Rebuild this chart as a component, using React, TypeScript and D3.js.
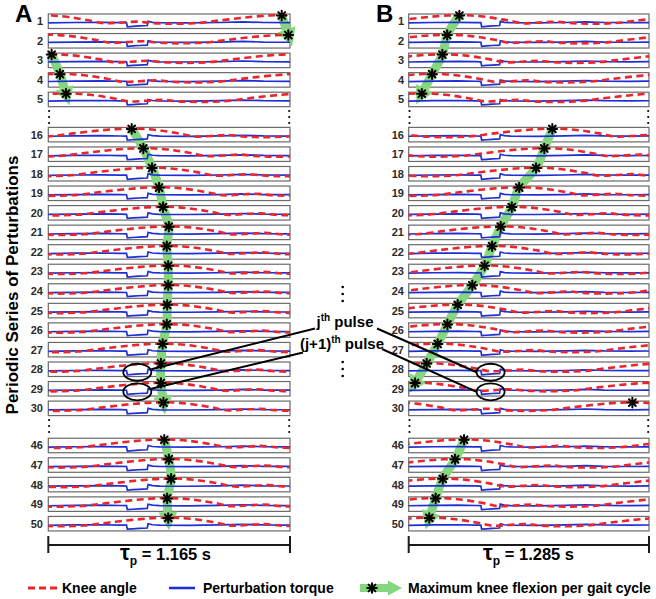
import React from 'react';
import * as d3 from 'd3';

// ---------------- data ----------------
const rowNumbers = [1, 2, 3, 4, 5, 16, 17, 18, 19, 20, 21, 22, 23, 24, 25, 26, 27, 28, 29, 30, 46, 47, 48, 49, 50];
// time (s) of maximum knee flexion within each perturbation period
const peakTimesA = [1.125, 1.157, 0.016, 0.056, 0.085, 0.402, 0.458, 0.5, 0.534, 0.553, 0.581, 0.571, 0.578, 0.578, 0.573, 0.571, 0.551, 0.543, 0.543, 0.555, 0.559, 0.581, 0.592, 0.573, 0.578];
const peakTimesB = [0.271, 0.206, 0.18, 0.125, 0.07, 0.768, 0.725, 0.681, 0.591, 0.551, 0.492, 0.446, 0.406, 0.34, 0.262, 0.207, 0.155, 0.096, 0.034, 1.196, 0.296, 0.248, 0.182, 0.144, 0.11];
// knee angle shape: [phase from peak (cycle fraction), normalized angle]
const kneeTemplate: [number, number][] = [
  [-0.5, 0.1], [-0.45, 0.07], [-0.35, 0.15], [-0.25, 0.45], [-0.15, 0.75], [-0.05, 0.96], [0, 1],
  [0.05, 0.96], [0.1, 0.85], [0.2, 0.45], [0.27, 0.12], [0.33, 0.2], [0.4, 0.3], [0.46, 0.15],
];
// perturbation torque shape: [time from pulse onset (s), normalized torque]
const torqueTemplate: [number, number][] = [
  [-0.4, -0.05], [-0.25, 0.05], [-0.12, 0.1], [-0.03, 0.02], [0, 0], [0.004, -1], [0.03, -0.9],
  [0.06, -0.8], [0.1, -0.7], [0.104, 0.35], [0.125, 0.1], [0.16, 0], [0.3, -0.05], [0.45, 0.05],
  [0.56, 0.2], [0.66, 0.05], [0.8, 0], [0.95, 0.05],
];
const periods = [1.165, 1.285];
const pulseOnsets = [0.377, 0.386];
const arrowRowsA = [[1, 2], [3, 5], [16, 30], [46, 50]];
const arrowRowsB = [[1, 5], [16, 29], [46, 50]];
const highlightedRows = [28, 29];
const panelLabels = ['A', 'B'];
const periodLabels = ['1.165 s', '1.285 s'];
const yTitle = 'Periodic Series of Perturbations';
const legendLabels = ['Knee angle', 'Perturbation torque', 'Maximum knee flexion per gait cycle'];

// ---------------- layout ----------------
const W = 656, H = 599;
const FONT = '"Liberation Sans", Arial, Helvetica, sans-serif';
const BOX_H = 14.5;
const RED = '#e8262b', BLUE = '#1f2fd6', GREEN = '#86d67f';
const slotOf = (r: number) => (r <= 5 ? r - 1 : r <= 30 ? 5.8 + (r - 16) : 21.7 + (r - 46));
const yTop = d3.scaleLinear().domain([0, 25.7]).range([14, 14 + 25.7 * 19.55]);
const rowTop = (r: number) => yTop(slotOf(r));

const panels = [
  { x0: 48.3, x1: 290, peaks: peakTimesA, arrows: arrowRowsA, labelX: 15, numX: 43, tauX: 120 },
  { x0: 408.7, x1: 649, peaks: peakTimesB, arrows: arrowRowsB, labelX: 376, numX: 404, tauX: 483 },
];

function Asterisk({ x, y }: { x: number; y: number }) {
  return (
    <g transform={`translate(${x},${y})`} stroke="#000" strokeWidth={2} strokeLinecap="round">
      {[0, 45, 90, 135].map((a) => (
        <line key={a} x1={-4.8} x2={4.8} y1={0} y2={0} transform={`rotate(${a})`} />
      ))}
    </g>
  );
}

function Panel({ pi }: { pi: number }) {
  const p = panels[pi];
  const period = periods[pi];
  const onset = pulseOnsets[pi];
  const x = d3.scaleLinear().domain([0, period]).range([p.x0, p.x1]);
  const clipId = `clip${pi}`;

  const starPos = (r: number) => {
    const i = rowNumbers.indexOf(r);
    return [x(p.peaks[i]), rowTop(r) + 1.5] as [number, number];
  };

  const rows = rowNumbers.map((r, i) => {
    const top = rowTop(r);
    const yK = d3.scaleLinear().domain([0, 1]).range([top + BOX_H * 0.72, top + BOX_H * 0.08]);
    const yT = d3.scaleLinear().domain([-1, 1]).range([top + BOX_H * 0.88, top + BOX_H * 0.32]);
    const peak = p.peaks[i];
    const kpts: [number, number][] = [];
    for (const k of [-1, 0, 1]) {
      for (const [d, v] of kneeTemplate) {
        const t = peak + (d + k) * period;
        if (t >= -0.15 * period && t <= 1.15 * period) kpts.push([t, v]);
      }
    }
    kpts.sort((a, b) => a[0] - b[0]);
    const kneePath = d3.line<[number, number]>().x((d) => x(d[0])).y((d) => yK(d[1])).curve(d3.curveMonotoneX)(kpts) || '';
    const tpts = torqueTemplate.map(([t, v]) => [onset + t, v] as [number, number]).filter((d) => d[0] >= -0.06 && d[0] <= period + 0.1);
    const torquePath = d3.line<[number, number]>().x((d) => x(d[0])).y((d) => yT(d[1]))(tpts) || '';
    return { r, top, kneePath, torquePath };
  });

  const arrows = p.arrows.map(([a, b]) => {
    const pts = rowNumbers.filter((r) => r >= a && r <= b).map(starPos);
    const n = pts.length;
    const [ax, ay] = pts[n - 2];
    const [bx, by] = pts[n - 1];
    const len = Math.hypot(bx - ax, by - ay);
    const dx = (bx - ax) / len, dy = (by - ay) / len;
    const [sx, sy] = pts[0];
    const [s2x, s2y] = pts[1];
    const l0 = Math.hypot(s2x - sx, s2y - sy);
    const start: [number, number] = [sx - ((s2x - sx) / l0) * 2, sy - ((s2y - sy) / l0) * 2];
    const base: [number, number] = [bx - dx * 6, by - dy * 6];
    const tip: [number, number] = [bx + dx * 12, by + dy * 12];
    const band = [start, ...pts.slice(1, n - 1), base];
    const bandPath = d3.line().curve(d3.curveCatmullRom)(band) || '';
    const hw = 9.5;
    const head = `M${base[0] - dy * hw},${base[1] + dx * hw}L${tip[0]},${tip[1]}L${base[0] + dy * hw},${base[1] - dx * hw}Z`;
    return { bandPath, head };
  });

  const edgeDots = [111, 117, 123, 420, 426, 432];

  return (
    <g>
      <defs>
        <clipPath id={clipId}>
          <rect x={p.x0} y={0} width={p.x1 - p.x0} height={H} />
        </clipPath>
      </defs>
      <text x={p.labelX} y={22} fontSize={24} fontWeight="bold" fill="#000">{panelLabels[pi]}</text>
      {rows.map((row) => (
        <g key={row.r}>
          <rect x={p.x0} y={row.top} width={p.x1 - p.x0} height={BOX_H} fill="#fff" stroke="#6a6a6a" strokeWidth={1.2} />
          <text x={p.numX} y={row.top + BOX_H / 2 + 4} fontSize={11} fontWeight="bold" fill="#2b2b2b" textAnchor="end">{row.r}</text>
        </g>
      ))}
      {arrows.map((a, i) => (
        <g key={i} fill={GREEN} stroke="none">
          <path d={a.bandPath} fill="none" stroke={GREEN} strokeWidth={9} />
          <path d={a.head} />
        </g>
      ))}
      <g clipPath={`url(#${clipId})`}>
        {rows.map((row) => (
          <g key={row.r}>
            <path d={row.torquePath} fill="none" stroke={BLUE} strokeWidth={1.7} />
            <path d={row.kneePath} fill="none" stroke={RED} strokeWidth={2.6} strokeDasharray="7,4.5" />
          </g>
        ))}
      </g>
      {rowNumbers.map((r) => {
        const [sx, sy] = starPos(r);
        return <Asterisk key={r} x={sx} y={sy} />;
      })}
      {edgeDots.map((y) => (
        <g key={y}>
          <circle cx={p.x0 + 0.8} cy={y} r={1.1} fill="#000" />
          <circle cx={p.x1 - 0.8} cy={y} r={1.1} fill="#000" />
        </g>
      ))}
      {highlightedRows.map((r) => (
        <ellipse key={r} cx={x(onset + 0.052)} cy={rowTop(r) + BOX_H / 2 + 3} rx={14} ry={8.5} fill="none" stroke="#000" strokeWidth={1.8} />
      ))}
      {/* period bracket */}
      <g stroke="#1a1a1a" strokeWidth={2}>
        <line x1={p.x0} x2={p.x1} y1={545} y2={545} />
        <line x1={p.x0} x2={p.x0} y1={536} y2={553} />
        <line x1={p.x1} x2={p.x1} y1={536} y2={553} />
      </g>
      <text x={p.tauX} y={560} fontWeight="bold" fill="#000">
        <tspan fontSize={22}>τ</tspan>
        <tspan fontSize={12} dy={5}>p</tspan>
        <tspan fontSize={16.5} dy={-5}>{` = ${periodLabels[pi]}`}</tspan>
      </text>
    </g>
  );
}

export default function App() {
  const xA = d3.scaleLinear().domain([0, periods[0]]).range([panels[0].x0, panels[0].x1]);
  const xB = d3.scaleLinear().domain([0, periods[1]]).range([panels[1].x0, panels[1].x1]);
  const eA = highlightedRows.map((r) => ({ cx: xA(pulseOnsets[0] + 0.052), cy: rowTop(r) + BOX_H / 2 + 3 }));
  const eB = highlightedRows.map((r) => ({ cx: xB(pulseOnsets[1] + 0.052), cy: rowTop(r) + BOX_H / 2 + 3 }));
  const textPos = [
    { x: 345, y: 327, lx: 315, ly: 328.5, rx: 377, ry: 328.5 },
    { x: 342, y: 349, lx: 303, ly: 352.5, rx: 382, ry: 349 },
  ];
  const midDots = [287, 294, 301, 362, 369, 376];

  return (
    <svg width={W} height={H} style={{ position: 'absolute', left: 0, top: 0, background: '#fff' }} fontFamily={FONT}>
      <rect width={W} height={H} fill="#fff" />
      <text transform="translate(18,285) rotate(-90)" fontSize={17} fontWeight="bold" textAnchor="middle" fill="#000">{yTitle}</text>
      <Panel pi={0} />
      <Panel pi={1} />
      {midDots.map((y) => <circle key={y} cx={342.7} cy={y} r={1.3} fill="#000" />)}
      <text x={textPos[0].x} y={textPos[0].y} fontSize={15} fontWeight="bold" textAnchor="middle" fill="#000">
        j<tspan fontSize={10} dy={-6}>th</tspan><tspan dy={6}> pulse</tspan>
      </text>
      <text x={textPos[1].x} y={textPos[1].y} fontSize={15} fontWeight="bold" textAnchor="middle" fill="#000">
        (j+1)<tspan fontSize={10} dy={-6}>th</tspan><tspan dy={6}> pulse</tspan>
      </text>
      <g stroke="#000" strokeWidth={2}>
        {eA.map((e, i) => (
          <line key={'a' + i} x1={e.cx + 14} y1={e.cy - 3} x2={textPos[i].lx} y2={textPos[i].ly} />
        ))}
        {eB.map((e, i) => (
          <line key={'b' + i} x1={textPos[i].rx} y1={textPos[i].ry} x2={e.cx - 14} y2={e.cy} />
        ))}
      </g>
      <g>
        <line x1={28} x2={57} y1={588} y2={588} stroke={RED} strokeWidth={2.8} strokeDasharray="7,4" />
        <text x={62} y={593} fontSize={14} fontWeight="bold" fill="#000">{legendLabels[0]}</text>
        <line x1={169} x2={195} y1={588} y2={588} stroke={BLUE} strokeWidth={2.6} />
        <text x={203} y={593} fontSize={14} fontWeight="bold" fill="#000">{legendLabels[1]}</text>
        <rect x={360} y={584} width={30} height={8} fill={GREEN} />
        <path d="M388,580.5L402,588L388,595.5Z" fill={GREEN} />
        <Asterisk x={372} y={588} />
        <text x={408} y={593} fontSize={14} fontWeight="bold" fill="#000">{legendLabels[2]}</text>
      </g>
    </svg>
  );
}
